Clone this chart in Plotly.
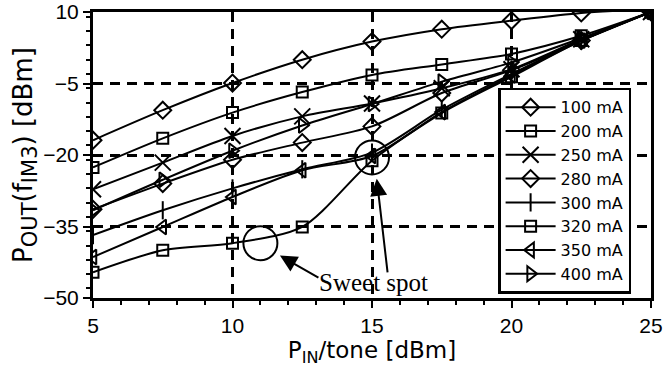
import plotly.graph_objects as go

# ---- data ----
p_in = [5, 7.5, 10, 12.5, 15, 17.5, 20, 22.5, 25]
labels = ["100 mA", "200 mA", "250 mA", "280 mA", "300 mA", "320 mA", "350 mA", "400 mA"]
ma100 = [-16.9, -10.6, -4.9, 0.0, 3.8, 6.4, 8.2, 9.8, 10.6]
ma200 = [-22.6, -16.5, -11.1, -6.8, -3.2, -1.0, 1.2, 5.0, 10.0]
ma250 = [-27.2, -21.6, -16.0, -11.9, -9.2, -6.0, -2.0, 4.3, 10.0]
ma280 = [-31.4, -26.0, -21.0, -17.4, -14.0, -7.0, -2.2, 4.0, 10.0]
ma300 = [-36.8, -31.6, -27.0, -23.0, -19.5, -10.5, -3.0, 4.0, 10.0]
ma320 = [-44.6, -40.0, -38.5, -35.1, -21.2, -11.2, -3.6, 4.0, 10.0]
ma350 = [-41.4, -35.1, -28.8, -23.2, -20.2, -11.0, -3.3, 4.0, 10.0]
ma400 = [-31.6, -25.2, -19.1, -13.8, -9.3, -4.6, -0.6, 4.5, 10.0]
series = [ma100, ma200, ma250, ma280, ma300, ma320, ma350, ma400]
symbols = ["diamond-open", "square-open", "x-thin-open", "diamond-open",
           "line-ns-open", "square-open", "triangle-left-open", "triangle-right-open"]
sizes = [13, 11, 16, 13, 13, 11, 13, 13]

# annotation anchors (data coords)
circles = [(11.0, -38.5), (15.0, -20.5)]
arrow_tips = [(11.7, -41.1, 40, 23), (15.17, -25.0, 11, 95)]
text_pos = (15.06, -46.7)

fig = go.Figure()
for lab, ys, sym, sz in zip(labels, series, symbols, sizes):
    fig.add_trace(go.Scatter(
        x=p_in, y=ys, name=lab, mode="lines+markers",
        line=dict(color="black", width=2, shape="spline", smoothing=0.8),
        marker=dict(symbol=sym, size=sz, color="black",
                    line=dict(color="black", width=2)),
        cliponaxis=True,
    ))

for cx, cy in circles:
    fig.add_shape(type="circle", xref="x", yref="y", xsizemode="pixel", ysizemode="pixel",
                  xanchor=cx, yanchor=cy, x0=-17, x1=17, y0=-17, y1=17,
                  line=dict(color="black", width=2))

for tx, ty, ax, ay in arrow_tips:
    fig.add_annotation(x=tx, y=ty, ax=ax, ay=ay, xref="x", yref="y",
                       showarrow=True, arrowhead=2, arrowsize=1.7, arrowwidth=2,
                       arrowcolor="black", text="")

fig.add_annotation(x=text_pos[0], y=text_pos[1], xref="x", yref="y", text="Sweet spot",
                   showarrow=False, font=dict(family="Liberation Serif", size=25, color="black"))

axis_common = dict(
    showline=True, linecolor="black", linewidth=3, mirror=True,
    ticks="outside", ticklen=7, tickwidth=2, tickcolor="black",
    showgrid=True, gridcolor="black", gridwidth=2.5, griddash="10px,7px",
    zeroline=False, automargin=False, ticklabeloverflow="allow",
    tickfont=dict(family="Liberation Sans, Arial", size=21, color="black"),
)

title_font = "DejaVu Sans"
fig.update_xaxes(range=[5, 25], dtick=5, tick0=5,
                 minor=dict(dtick=1, ticklen=4, tickwidth=2, tickcolor="black", ticks="outside", showgrid=False),
                 title=dict(text="P<sub>IN</sub>/tone [dBm]", standoff=4,
                            font=dict(family=title_font, size=23, color="black")),
                 **axis_common)
fig.update_yaxes(range=[-50, 10], dtick=15, tick0=-50,
                 minor=dict(dtick=3, ticklen=4, tickwidth=2, tickcolor="black", ticks="outside", showgrid=False),
                 title=dict(text="P<sub><span style=\"font-size:21px\">OUT</span></sub>(f<sub><span style=\"font-size:21px\">IM3</span></sub>) [dBm]",
                            standoff=4,
                            font=dict(family=title_font, size=26, color="black")),
                 **axis_common)

fig.update_layout(
    width=665, height=367,
    margin=dict(l=93, r=14, t=12, b=69, autoexpand=False),
    paper_bgcolor="white", plot_bgcolor="white",
    showlegend=True,
    legend=dict(x=0.726, y=0.735, xanchor="left", yanchor="top",
                bgcolor="white", bordercolor="black", borderwidth=2.5,
                font=dict(family=title_font, size=16, color="black"),
                itemwidth=50, tracegroupgap=0),
    font=dict(family="Liberation Sans, Arial", color="black"),
)

fig.write_html("out.html")
